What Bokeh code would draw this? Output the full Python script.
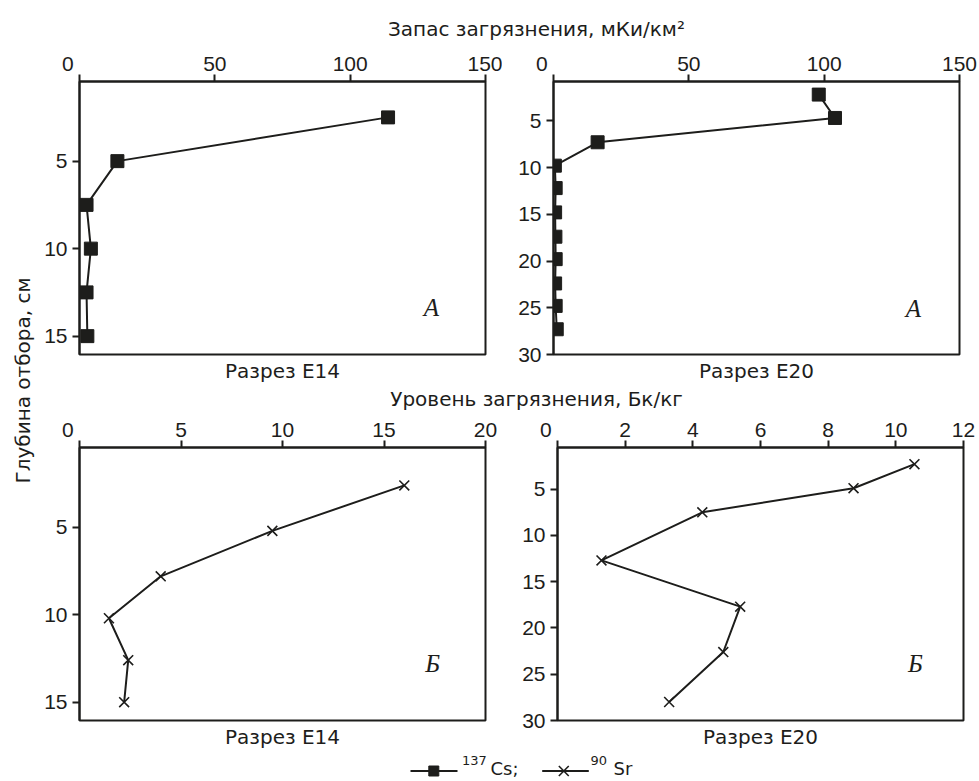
import math
from bokeh.plotting import figure
from bokeh.models import Range1d, FixedTicker, Label, LinearAxis
from bokeh.layouts import row, column
from bokeh.embed import file_html
from bokeh.resources import INLINE
from bokeh.core.properties import value

TICK_FONT = "Liberation Sans"
TEXT_FONT = "DejaVu Sans"
LETTER_FONT = "Liberation Serif"
INK = "#1d1d1b"
NBSP = "\u00a0"

# ---------------- data ----------------
# 137Cs stock, mCi/km2, vs sampling depth, cm
cs_e14_depth = [2.5, 5.0, 7.5, 10.0, 12.5, 15.0]
cs_e14_stock = [114.0, 14.0, 2.6, 4.2, 2.6, 2.9]
cs_e20_depth = [2.2, 4.7, 7.3, 9.8, 12.2, 14.8, 17.4, 19.8, 22.4, 24.8, 27.3]
cs_e20_stock = [98.0, 104.0, 16.3, 0.5, 0.8, 0.6, 0.7, 0.8, 0.6, 0.8, 1.2]
# 90Sr level, Bq/kg, vs sampling depth, cm
sr_e14_depth = [2.6, 5.2, 7.8, 10.2, 12.6, 15.0]
sr_e14_level = [16.0, 9.5, 4.0, 1.45, 2.4, 2.2]
sr_e20_depth = [2.3, 4.9, 7.5, 12.7, 17.7, 22.6, 28.0]
sr_e20_level = [10.55, 8.75, 4.28, 1.3, 5.4, 4.9, 3.3]

stock_ticks = [0, 50, 100, 150]
level_ticks_e14 = [0, 5, 10, 15, 20]
level_ticks_e20 = [0, 2, 4, 6, 8, 10, 12]
depth_ticks_e14 = [5, 10, 15]
depth_ticks_e20 = [5, 10, 15, 20, 25, 30]

top_title = "Запас загрязнения, мКи/км²"
mid_title = "Уровень загрязнения, Бк/кг"
depth_title = "Глубина отбора, см"
sections = ["Разрез E14", "Разрез E20"]
letters = ["А", "Б"]
legend_iso = [("137", "Cs;"), ("90", "Sr")]


def make_panel(x_end, x_ticks, y_top, y_bottom, y_ticks, depth, vals, kind,
               section, letter, letter_pos, borders):
    left, right, top, bottom = borders
    p = figure(width=left + 406 + right, height=top + 273 + bottom,
               min_border_left=left, min_border_right=right,
               min_border_top=top, min_border_bottom=bottom,
               x_range=Range1d(0, x_end), y_range=Range1d(y_bottom, y_top),
               x_axis_location="above", toolbar_location=None, tools="",
               output_backend="svg")
    p.xgrid.visible = False
    p.ygrid.visible = False
    p.outline_line_color = INK
    p.outline_line_width = 2
    p.outline_line_alpha = 1
    p.background_fill_color = "white"
    p.border_fill_color = "white"
    for ax, ticks in ((p.xaxis[0], x_ticks), (p.yaxis[0], y_ticks)):
        ax.ticker = FixedTicker(ticks=ticks)
        ax.axis_line_color = INK
        ax.axis_line_width = 2
        ax.major_tick_line_color = INK
        ax.major_tick_line_width = 2
        ax.major_tick_out = 7
        ax.major_tick_in = 0
        ax.minor_tick_line_color = None
        ax.major_label_text_font = TICK_FONT
        ax.major_label_text_font_size = "21px"
        ax.major_label_text_color = INK
    p.xaxis[0].major_label_standoff = 0
    # the origin "0" sits at the corner, left of the tick (padded with no-break spaces)
    p.xaxis[0].major_label_overrides = {0: "0" + NBSP * 4}
    p.yaxis[0].major_label_standoff = 5

    # section name under the frame, as the label of a tick-less bottom axis
    sec = LinearAxis(ticker=FixedTicker(ticks=[]), axis_label=section,
                     axis_line_color=None, major_tick_line_color=None,
                     minor_tick_line_color=None, major_label_text_font_size="1px",
                     axis_label_standoff=4, axis_label_text_font=TEXT_FONT,
                     axis_label_text_font_size="20px", axis_label_text_font_style="normal",
                     axis_label_text_color=INK)
    p.add_layout(sec, "below")

    p.line(vals, depth, line_color=INK, line_width=2)
    if kind == "cs":
        p.scatter(vals, depth, marker="square", size=13, fill_color=INK, line_color=INK)
    else:
        p.scatter(vals, depth, marker="x", size=14, line_color=INK, line_width=1.6)

    p.add_layout(Label(x=letter_pos[0], y=letter_pos[1], text=letter,
                       text_font=LETTER_FONT, text_font_style="italic",
                       text_font_size="25px", text_align="center",
                       text_baseline="middle", text_color=INK))
    return p


def strip(width, height, x0, x1, y_top, y_bottom):
    p = figure(width=width, height=height, x_range=Range1d(x0, x1),
               y_range=Range1d(y_bottom, y_top), x_axis_type=None, y_axis_type=None,
               toolbar_location=None, tools="", output_backend="svg", min_border=0)
    p.outline_line_color = None
    p.background_fill_color = "white"
    p.border_fill_color = "white"
    return p


def put_text(p, xs, ys, texts, size, align="center", baseline="middle", angle=0.0):
    p.text(x=xs, y=ys, text=texts, angle=angle, text_font=value(TEXT_FONT),
           text_font_size=size, text_align=align, text_baseline=baseline, text_color=INK)


tl = make_panel(150, stock_ticks, 0.45, 16.05, depth_ticks_e14, cs_e14_depth, cs_e14_stock,
                "cs", sections[0], letters[0], (130, 13.36), (43, 17, 36, 32))
tr = make_panel(150, stock_ticks, 0.8, 30, depth_ticks_e20, cs_e20_depth, cs_e20_stock,
                "cs", sections[1], letters[0], (133, 25.1), (51, 20, 36, 32))
bl = make_panel(20, level_ticks_e14, 0.43, 16.05, depth_ticks_e14, sr_e14_depth, sr_e14_level,
                "sr", sections[0], letters[1], (17.4, 12.79), (43, 17, 37, 32))
br = make_panel(12, level_ticks_e20, 0.5, 30, depth_ticks_e20, sr_e20_depth, sr_e20_level,
                "sr", sections[1], letters[1], (10.58, 23.84), (55, 16, 37, 32))

# header with the top x-axis title (page y 0..45)
h1 = strip(943, 45, 36, 979, 0, 45)
put_text(h1, [536], [28], [top_title], "20px")

# strip between the rows (page y 386..410): lower x-axis title
h2 = strip(943, 24, 36, 979, 386, 410)
put_text(h2, [536], [398], [mid_title], "20px")

# vertical y-axis title strip
ys = strip(36, 781, 0, 36, 0, 781)
put_text(ys, [22], [380], [depth_title], "20px", angle=math.pi / 2)

# legend strip (page y 752..781)
lg = strip(943, 29, 36, 979, 752, 781)
lg.line([410, 457], [770.5, 770.5], line_color=INK, line_width=2)
lg.scatter([433.3], [770.5], marker="square", size=10, fill_color=INK, line_color=INK)
lg.line([541.7, 588.3], [770.5, 770.5], line_color=INK, line_width=2)
lg.scatter([563.3], [770.5], marker="x", size=14, line_color=INK, line_width=1.6)
put_text(lg, [461.5, 590], [760, 760], [legend_iso[0][0], legend_iso[1][0]], "13px",
         align="left", baseline="middle")
put_text(lg, [490, 613], [768, 768], [legend_iso[0][1], legend_iso[1][1]], "18px",
         align="left", baseline="middle")

layout = row(ys, column(h1, row(tl, tr), h2, row(bl, br), lg))

open("out.html", "w").write(file_html(layout, INLINE))
